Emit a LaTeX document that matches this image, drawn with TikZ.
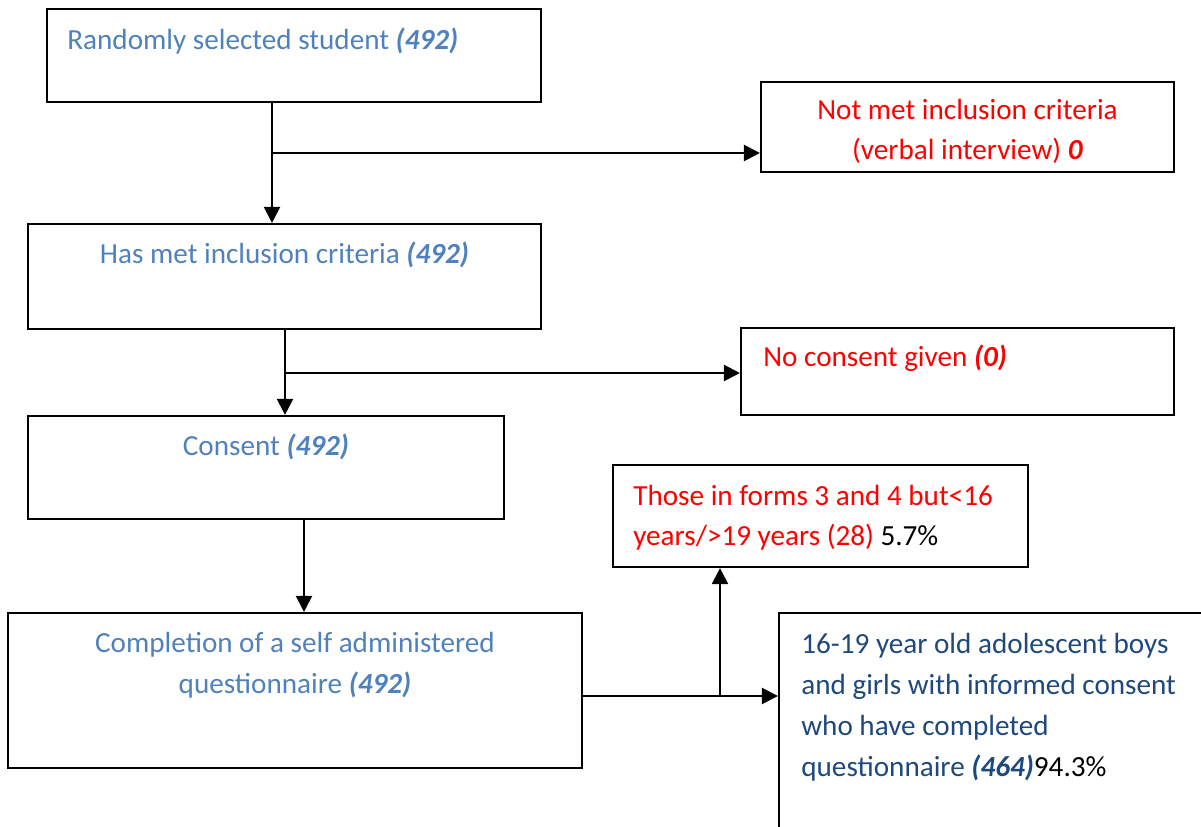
\documentclass[tikz,border=0pt]{standalone}
\usepackage{fontspec}
\setmainfont{Carlito}
\usetikzlibrary{arrows.meta}
\definecolor{lblue}{HTML}{4F81BD}
\definecolor{dblue}{HTML}{1F497D}
\definecolor{tred}{HTML}{FF0000}

\begin{document}
\begin{tikzpicture}[x=0.02cm, y=-0.02cm,
    stage/.style ={rectangle, draw, line width=1.25pt, inner sep=0pt},
    txt/.style ={inner sep=0pt, font=\fontsize{16.6}{23.3}\selectfont},
    arr/.style ={line width=1.25pt, -{Triangle[length=0.32cm, width=0.32cm]}}]
   \useasboundingbox (0,0) rectangle (1201,827);
   \clip (0,0) rectangle (1201,827);

   \node[stage, minimum width=9.88cm, minimum height=1.86cm] (rand) at (294,55.5) {};
   \node[stage, minimum width=8.26cm, minimum height=1.80cm] (notmet) at (967.5,127) {};
   \node[stage, minimum width=10.26cm, minimum height=2.10cm] (crit) at (284.5,276.5) {};
   \node[stage, minimum width=8.66cm, minimum height=1.74cm] (nocons) at (957.5,371.5) {};
   \node[stage, minimum width=9.52cm, minimum height=2.06cm] (cons) at (266,467.5) {};
   \node[stage, minimum width=8.30cm, minimum height=2.04cm] (excl) at (820.5,516) {};
   \node[stage, minimum width=11.48cm, minimum height=3.10cm] (compl) at (295,690.5) {};
   \node[stage, minimum width=9.02cm, minimum height=4.94cm] (final) at (1004.5,736.5) {};

   % multi-line texts sit on the baseline of their last line
   \node[txt, anchor=base west, text=lblue] (randt) at (67,49.5)
      {Randomly selected student \textbf{\textit{(492)}}};
   \node[txt, anchor=base, align=center, text=tred] (notmett) at (967.5,160)
      {Not met inclusion criteria\\(verbal interview) \textbf{\textit{0}}};
   \node[txt, anchor=base, text=lblue] (critt) at (284.5,264)
      {Has met inclusion criteria \textbf{\textit{(492)}}};
   \node[txt, anchor=base west, text=tred] (noconst) at (763,367)
      {No consent given \textbf{\textit{(0)}}};
   \node[txt, anchor=base, text=lblue] (const) at (266,456)
      {Consent \textbf{\textit{(492)}}};
   \node[txt, anchor=base west, align=left, text=tred] (exclt) at (633,546)
      {Those in forms 3 and 4 but<16\\years/>19 years (28) \textcolor{black}{5.7\%}};
   \node[txt, anchor=base, align=center, text=lblue] (complt) at (295,693)
      {Completion of a self administered\\questionnaire \textbf{\textit{(492)}}};
   \node[txt, anchor=base west, align=left, text=dblue] (finalt) at (801,776)
      {16-19 year old adolescent boys\\and girls with informed consent\\who have completed\\questionnaire \textbf{\textit{(464)}}\textcolor{black}{94.3\%}};

   \coordinate (j1) at (272,153);
   \coordinate (j2) at (285,373);
   \coordinate (j3) at (304,0);
   \coordinate (j4) at (720,696);

   \draw[arr] (j1 |- rand.south) -- (j1 |- crit.north);
   \draw[arr] (j1) -- (j1 -| notmet.west);
   \draw[arr] (j2 |- crit.south) -- (j2 |- cons.north);
   \draw[arr] (j2) -- (j2 -| nocons.west);
   \draw[arr] (j3 |- cons.south) -- (j3 |- compl.north);
   \draw[arr] (j4 -| compl.east) -- (j4 -| final.west);
   \draw[arr] (j4) -- (j4 |- excl.south);
 \end{tikzpicture}
\end{document}
